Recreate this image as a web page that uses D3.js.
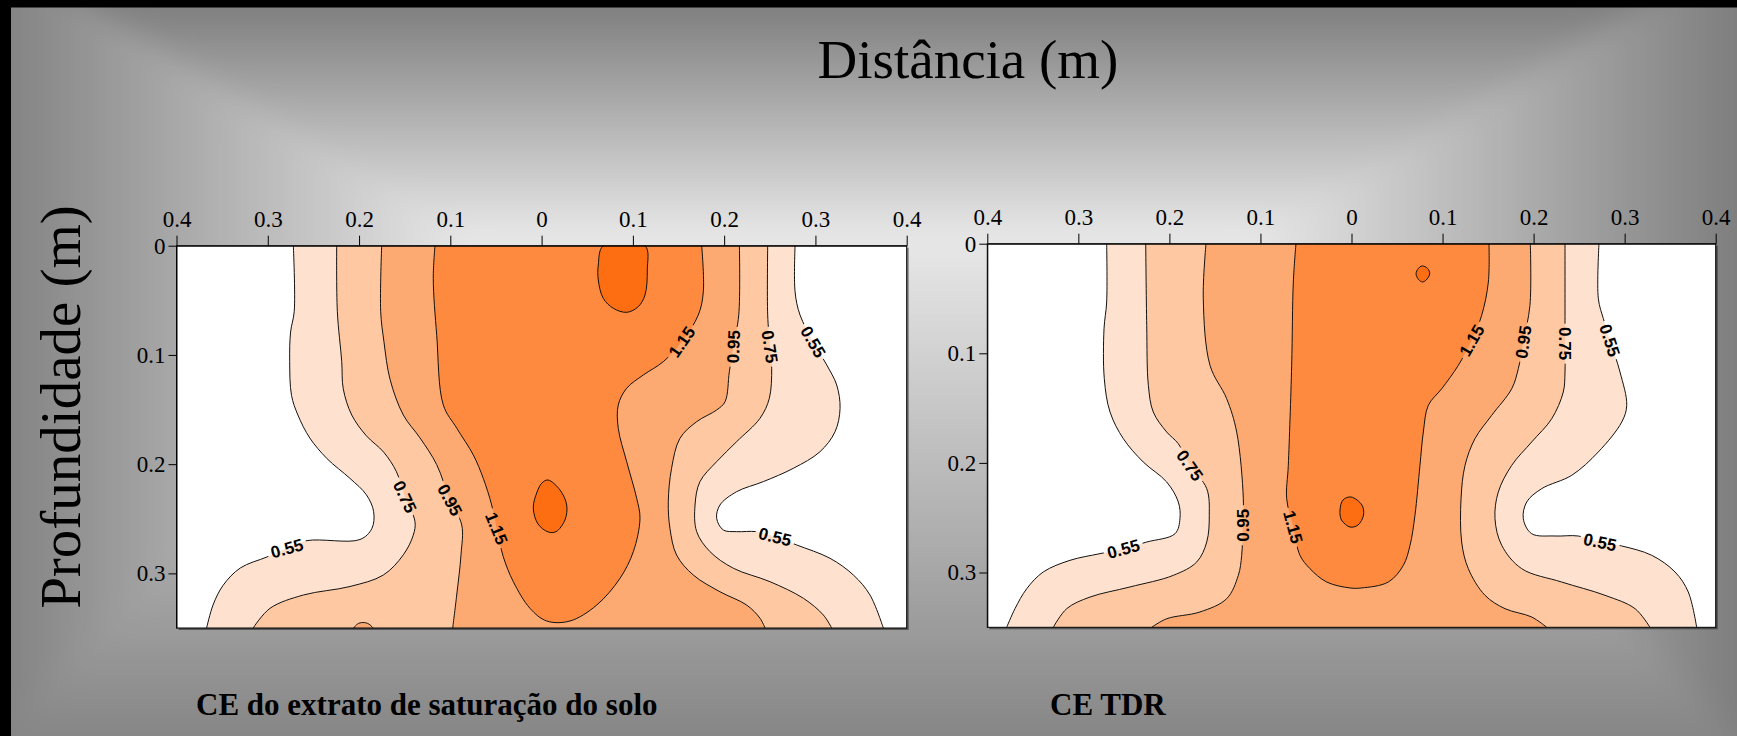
<!DOCTYPE html>
<html>
<head>
<meta charset="utf-8">
<script src="https://cdn.jsdelivr.net/npm/d3@7"></script>
<style>
  html, body { margin: 0; padding: 0; background: #000; }
  svg { display: block; }
</style>
</head>
<body>
<svg id="chart" width="1737" height="736"></svg>
<script>
// ---- contour levels and band colours ----
const levels = [0.55, 0.75, 0.95, 1.15, 1.35];
const bandColors = ["#fee2cf", "#fec8a2", "#fcaa72", "#fd8a3f", "#fd6e12"];
const xTicks = [-0.4, -0.3, -0.2, -0.1, 0, 0.1, 0.2, 0.3, 0.4];
const depthTicks = [0, 0.1, 0.2, 0.3];

// ---- CE do extrato de saturação: contour lines as [distance (m), depth (m)] ----
const ext055L = [[-0.272,0],[-0.271,0.060],[-0.275,0.079],[-0.276,0.106],[-0.274,0.137],[-0.267,0.155],[-0.254,0.176],[-0.235,0.195],[-0.210,0.213],[-0.192,0.228],[-0.184,0.2435],[-0.186,0.259],[-0.199,0.269],[-0.257,0.270],[-0.279,0.277],[-0.301,0.285],[-0.330,0.295],[-0.349,0.311],[-0.360,0.329],[-0.367,0.350]];
const ext055R = [[0.2777,0],[0.2777,0.0421],[0.2831,0.0634],[0.2977,0.0879],[0.3124,0.1092],[0.3233,0.1275],[0.327,0.1489],[0.3215,0.1703],[0.305,0.1886],[0.2758,0.2038],[0.2429,0.216],[0.2137,0.2252],[0.1954,0.2374],[0.1918,0.2496],[0.1991,0.2603],[0.2137,0.2618],[0.2356,0.2618],[0.2557,0.2664],[0.2795,0.274],[0.316,0.2862],[0.3416,0.3015],[0.3598,0.3198],[0.3744,0.35]];
const ext075L = [[-0.2245,0],[-0.2238,0.060],[-0.219,0.106],[-0.2173,0.131],[-0.208,0.155],[-0.192,0.174],[-0.173,0.189],[-0.159,0.207],[-0.1497,0.2298],[-0.1387,0.2527],[-0.1406,0.265],[-0.1515,0.283],[-0.1734,0.3015],[-0.2099,0.312],[-0.261,0.3198],[-0.2976,0.332],[-0.316,0.350]];
const ext075R = [[0.2477,0],[0.2477,0.0634],[0.2502,0.0925],[0.2521,0.1122],[0.2495,0.1397],[0.2393,0.158],[0.2137,0.1794],[0.1918,0.1977],[0.1735,0.216],[0.1681,0.2374],[0.1699,0.2618],[0.1845,0.2801],[0.2101,0.2953],[0.2502,0.3076],[0.2868,0.3228],[0.3087,0.3381],[0.3178,0.35]];
const ext095L = [[-0.1752,0],[-0.1763,0.06],[-0.1727,0.088],[-0.166,0.1225],[-0.1515,0.155],[-0.1332,0.176],[-0.1149,0.2005],[-0.1004,0.2328],[-0.0875,0.2557],[-0.0883,0.283],[-0.093,0.3198],[-0.0974,0.350]];
const ext095R = [[0.2167,0],[0.216,0.0634],[0.21,0.0925],[0.2057,0.1153],[0.201,0.1428],[0.1918,0.1504],[0.1699,0.1611],[0.1516,0.1763],[0.1424,0.2038],[0.1388,0.2344],[0.1406,0.2587],[0.1479,0.2832],[0.1662,0.3015],[0.1954,0.3168],[0.2247,0.329],[0.2393,0.3411],[0.2448,0.35]];
const ext095Bump = [[-0.207,0.353],[-0.202,0.3465],[-0.1957,0.3450],[-0.189,0.3465],[-0.183,0.353]];
const ext115 = [[-0.1168,0],[-0.1187,0.030],[-0.1149,0.082],[-0.1077,0.1458],[-0.093,0.167],[-0.0748,0.1916],[-0.0639,0.213],[-0.0547,0.2374],[-0.0492,0.2587],[-0.042,0.2847],[-0.031,0.3076],[-0.0127,0.332],[0.0056,0.3436],[0.0311,0.3436],[0.0604,0.329],[0.0859,0.3045],[0.1005,0.2801],[0.1078,0.2496],[0.1042,0.2313],[0.0932,0.1977],[0.084,0.1672],[0.084,0.1458],[0.0932,0.1305],[0.1114,0.1184],[0.1333,0.1062],[0.1535,0.0879],[0.1717,0.0634],[0.1772,0.0421],[0.1754,0]];
const ext135Top = [[0.0676,0],[0.0621,0.0177],[0.0621,0.0314],[0.0676,0.0482],[0.0786,0.0573],[0.0932,0.061],[0.1059,0.0558],[0.1133,0.0451],[0.1158,0.0222],[0.1133,0]];
const ext135Mid = [[0.007,0.2145],[0.0202,0.2237],[0.0275,0.2374],[0.0256,0.2511],[0.0158,0.2618],[0.0073,0.2621],[-0.0039,0.2548],[-0.0091,0.2401],[-0.005,0.2255],[0.0004,0.2172]];
// contour labels: [level, distance, depth, rotation]
const extLabels = [[0.55,-0.279,0.277,-15],[0.75,-0.1497,0.2298,65],[0.95,-0.1004,0.2328,62],[1.15,-0.0492,0.2587,68],[1.15,0.1535,0.0879,-55],[0.95,0.21,0.0925,-88],[0.75,0.2502,0.0925,82],[0.55,0.2977,0.0879,60],[0.55,0.2557,0.2664,14]];

// ---- CE TDR ----
const tdr055L = [[-0.2689,0],[-0.2689,0.0532],[-0.2718,0.0776],[-0.2715,0.1232],[-0.2652,0.1536],[-0.2506,0.1779],[-0.2287,0.1992],[-0.203,0.2174],[-0.1902,0.2357],[-0.1884,0.2509],[-0.1938,0.2646],[-0.2249,0.2722],[-0.2506,0.2783],[-0.2762,0.2828],[-0.3092,0.2889],[-0.3385,0.2995],[-0.3567,0.3148],[-0.3696,0.333],[-0.3787,0.35]];
const tdr055R = [[0.2718,0],[0.2711,0.0502],[0.2766,0.0684],[0.2839,0.0881],[0.2949,0.1171],[0.3023,0.1474],[0.2968,0.1627],[0.2711,0.19],[0.2419,0.2113],[0.2089,0.2235],[0.1924,0.2357],[0.1887,0.2509],[0.1979,0.2646],[0.2235,0.2667],[0.2491,0.2667],[0.2729,0.2722],[0.2968,0.2758],[0.3297,0.2843],[0.3553,0.2995],[0.3699,0.3178],[0.3791,0.35]];
const tdr075L = [[-0.226,0],[-0.2249,0.0745],[-0.2231,0.1292],[-0.2177,0.1536],[-0.203,0.1718],[-0.1902,0.1825],[-0.1774,0.2022],[-0.159,0.2235],[-0.1562,0.2478],[-0.159,0.2722],[-0.17,0.2904],[-0.1957,0.3026],[-0.2433,0.3132],[-0.2872,0.3224],[-0.3128,0.333],[-0.3275,0.35]];
const tdr075R = [[0.2345,0],[0.2345,0.0623],[0.2345,0.0912],[0.2345,0.1171],[0.2326,0.1353],[0.2199,0.1597],[0.1979,0.1809],[0.176,0.2022],[0.1612,0.2266],[0.1576,0.2509],[0.165,0.2752],[0.1869,0.2965],[0.2309,0.3087],[0.2784,0.3208],[0.3114,0.333],[0.3278,0.35]];
const tdr095L = [[-0.1598,0],[-0.1628,0.0502],[-0.1554,0.111],[-0.1371,0.1414],[-0.1261,0.1718],[-0.1188,0.2327],[-0.1195,0.2569],[-0.1206,0.2843],[-0.1243,0.3026],[-0.1371,0.3239],[-0.1664,0.336],[-0.203,0.3422],[-0.2194,0.35]];
const tdr095R = [[0.1964,0],[0.196,0.0562],[0.1887,0.0897],[0.1832,0.1141],[0.176,0.1323],[0.154,0.1566],[0.1356,0.1779],[0.1247,0.2022],[0.1203,0.2327],[0.121,0.2722],[0.1283,0.2965],[0.1466,0.3208],[0.1686,0.333],[0.1979,0.3406],[0.2144,0.35]];
const tdr115 = [[-0.061,0],[-0.0639,0.035],[-0.0657,0.111],[-0.0694,0.2022],[-0.0712,0.2327],[-0.0639,0.2585],[-0.0566,0.2843],[-0.0456,0.2965],[-0.0272,0.3087],[-0.0016,0.3141],[0.0112,0.3141],[0.0404,0.3087],[0.0569,0.2935],[0.0643,0.2752],[0.0697,0.2478],[0.0752,0.2022],[0.0789,0.1718],[0.0844,0.1474],[0.0991,0.1323],[0.1173,0.111],[0.132,0.0881],[0.143,0.0653],[0.1503,0.035],[0.151,0]];
const tdr135Top = [[0.0775,0.0203],[0.0835,0.0225],[0.0859,0.0276],[0.0815,0.0335],[0.0778,0.0349],[0.074,0.033],[0.0709,0.0276],[0.0735,0.0225]];
const tdr135Mid = [[-0.0005,0.2311],[0.0115,0.2385],[0.0132,0.2476],[0.0071,0.2567],[-0.0016,0.2585],[-0.011,0.2521],[-0.0126,0.2429],[-0.0093,0.2338]];
const tdrLabels = [[0.55,-0.2506,0.2783,-15],[0.75,-0.1774,0.2022,55],[0.95,-0.1195,0.2569,-90],[1.15,-0.0639,0.2585,75],[1.15,0.132,0.0881,-60],[0.95,0.1887,0.0897,-82],[0.75,0.2345,0.0912,90],[0.55,0.2839,0.0881,72],[0.55,0.2729,0.2722,12]];

const W = 1737, H = 736;
const svg = d3.select("#chart");
const defs = svg.append("defs");

// ---- slide background: rectangular grey gradient that lightens toward a band above the plots ----
const Lc = 470, Rc = 1250, Yc = 238, M = 120;
const centre = "#e8e8e8";
const gradDefs = [
  { id: "gTop",    x1: 0, y1: 8, x2: 0,  y2: Yc, edge: "#7f7f7f", pts: [[-M,-M],[W+M,-M],[Rc,Yc],[Lc,Yc]] },
  { id: "gBottom", x1: 0, y1: H, x2: 0,  y2: Yc, edge: "#868686", pts: [[-M,H+M],[W+M,H+M],[Rc,Yc],[Lc,Yc]] },
  { id: "gLeft",   x1: 11, y1: 0, x2: Lc, y2: 0, edge: "#848484", pts: [[-M,-M],[Lc,Yc],[-M,H+M]] },
  { id: "gRight",  x1: W, y1: 0, x2: Rc, y2: 0, edge: "#7e7e7e", pts: [[W+M,-M],[Rc,Yc],[W+M,H+M]] }
];
const blur = defs.append("filter").attr("id", "bgSoft").attr("filterUnits", "userSpaceOnUse")
  .attr("x", -M).attr("y", -M).attr("width", W + 2 * M).attr("height", H + 2 * M);
blur.append("feGaussianBlur").attr("stdDeviation", 14);
svg.append("rect").attr("width", W).attr("height", H).attr("fill", "#9a9a9a");
const bg = svg.append("g").attr("filter", "url(#bgSoft)");
gradDefs.forEach(g => {
  const lg = defs.append("linearGradient").attr("id", g.id).attr("gradientUnits", "userSpaceOnUse")
    .attr("x1", g.x1).attr("y1", g.y1).attr("x2", g.x2).attr("y2", g.y2);
  lg.append("stop").attr("offset", 0).attr("stop-color", g.edge);
  lg.append("stop").attr("offset", 1).attr("stop-color", centre);
  bg.append("polygon").attr("points", g.pts.map(p => p.join(",")).join(" "))
    .attr("fill", `url(#${g.id})`).attr("stroke", `url(#${g.id})`).attr("stroke-width", 1);
});
svg.append("rect").attr("x", 0).attr("y", 0).attr("width", W).attr("height", 7.5).attr("fill", "#000");
svg.append("rect").attr("x", 0).attr("y", 0).attr("width", 11).attr("height", H).attr("fill", "#000");

// ---- titles ----
svg.append("text").attr("x", 968).attr("y", 78)
  .attr("text-anchor", "middle").attr("font-family", "Liberation Serif, Times New Roman, serif")
  .attr("font-size", 55).attr("fill", "#000").text("Distância (m)");
svg.append("text").attr("transform", "translate(80,407) rotate(-90)")
  .attr("text-anchor", "middle").attr("font-family", "Liberation Serif, Times New Roman, serif")
  .attr("font-size", 57).attr("fill", "#000").text("Profundidade (m)");

// ---- one contour panel ----
function drawPanel(cfg) {
  const { id, left, top, width, height, bands, loop, bumps, islands, labels } = cfg;
  const x = d3.scaleLinear().domain([-0.4, 0.4]).range([left, left + width]);
  const y = d3.scaleLinear().domain([0, 0.35]).range([top, top + height]);
  const line = d3.line().x(d => x(d[0])).y(d => y(d[1])).curve(d3.curveCatmullRom.alpha(0.5));
  const closed = d3.line().x(d => x(d[0])).y(d => y(d[1])).curve(d3.curveCatmullRomClosed.alpha(0.5));

  const g = svg.append("g");
  // drop shadow and white field (values below the lowest level)
  g.append("rect").attr("x", left + 2).attr("y", top + 2).attr("width", width).attr("height", height)
    .attr("fill", "rgba(0,0,0,0.45)");
  g.append("rect").attr("x", left).attr("y", top).attr("width", width).attr("height", height).attr("fill", "#fff");

  defs.append("clipPath").attr("id", id + "-clip").append("rect")
    .attr("x", left).attr("y", top).attr("width", width).attr("height", height);
  const body = g.append("g").attr("clip-path", `url(#${id}-clip)`);

  // filled bands: each region above a level is bounded by its left and right contour
  bands.forEach(b => {
    const path = line(b.left) + line(b.right.slice().reverse()).replace(/^M/, "L") + "Z";
    body.append("path").attr("d", path).attr("fill", bandColors[levels.indexOf(b.level)]);
  });
  bumps.forEach(b => body.append("path").attr("d", closed(b.pts)).attr("fill", bandColors[levels.indexOf(b.level)]));
  body.append("path").attr("d", line(loop.pts) + "Z").attr("fill", bandColors[levels.indexOf(loop.level)]);
  islands.forEach(b => body.append("path").attr("d", closed(b.pts)).attr("fill", bandColors[levels.indexOf(b.level)]));

  // mask that opens gaps in the contour lines behind their labels
  const mask = defs.append("mask").attr("id", id + "-mask").attr("maskUnits", "userSpaceOnUse")
    .attr("x", 0).attr("y", 0).attr("width", W).attr("height", H);
  mask.append("rect").attr("width", W).attr("height", H).attr("fill", "#fff");
  labels.forEach(l => {
    mask.append("rect").attr("x", -20).attr("y", -7).attr("width", 40).attr("height", 14)
      .attr("fill", "#000")
      .attr("transform", `translate(${x(l[1])},${y(l[2])}) rotate(${l[3]})`);
  });

  const lines = body.append("g").attr("mask", `url(#${id}-mask)`)
    .attr("fill", "none").attr("stroke", "#111").attr("stroke-width", 1);
  bands.forEach(b => { lines.append("path").attr("d", line(b.left)); lines.append("path").attr("d", line(b.right)); });
  bumps.forEach(b => lines.append("path").attr("d", closed(b.pts)));
  lines.append("path").attr("d", line(loop.pts));
  islands.forEach(b => lines.append("path").attr("d", closed(b.pts)));

  body.selectAll("text.lab").data(labels).join("text").attr("class", "lab")
    .attr("transform", l => `translate(${x(l[1])},${y(l[2])}) rotate(${l[3]})`)
    .attr("text-anchor", "middle").attr("dy", "0.36em")
    .attr("font-family", "Liberation Sans, Arial, sans-serif").attr("font-size", 17).attr("font-weight", 700)
    .attr("fill", "#000").text(l => l[0].toFixed(2));

  // frame
  g.append("rect").attr("x", left).attr("y", top).attr("width", width).attr("height", height)
    .attr("fill", "none").attr("stroke", "#000").attr("stroke-width", 1);

  // axes: distance on top, depth on the left
  const fmt = d => d === 0 ? "0" : Math.abs(d).toFixed(1);
  const ax = g.append("g").attr("transform", `translate(0,${top})`)
    .call(d3.axisTop(x).tickValues(xTicks).tickFormat(fmt).tickSize(10).tickSizeOuter(0).tickPadding(9));
  const ay = g.append("g").attr("transform", `translate(${left},0)`)
    .call(d3.axisLeft(y).tickValues(depthTicks).tickFormat(d => d === 0 ? "0" : d.toFixed(1)).tickSize(8).tickSizeOuter(0).tickPadding(3));
  [ax, ay].forEach(a => {
    a.attr("font-family", "Liberation Serif, Times New Roman, serif").attr("font-size", 23);
    a.selectAll("text").attr("fill", "#000");
    a.selectAll("line,path").attr("stroke", "#000");
  });
}

drawPanel({
  id: "ext", left: 176.5, top: 245.7, width: 730.2, height: 382.3,
  bands: [
    { level: 0.55, left: ext055L, right: ext055R },
    { level: 0.75, left: ext075L, right: ext075R },
    { level: 0.95, left: ext095L, right: ext095R }
  ],
  bumps: [{ level: 0.95, pts: ext095Bump }],
  loop: { level: 1.15, pts: ext115 },
  islands: [{ level: 1.35, pts: ext135Top }, { level: 1.35, pts: ext135Mid }],
  labels: extLabels
});

drawPanel({
  id: "tdr", left: 987.3, top: 243.7, width: 728.4, height: 383.6,
  bands: [
    { level: 0.55, left: tdr055L, right: tdr055R },
    { level: 0.75, left: tdr075L, right: tdr075R },
    { level: 0.95, left: tdr095L, right: tdr095R }
  ],
  bumps: [],
  loop: { level: 1.15, pts: tdr115 },
  islands: [{ level: 1.35, pts: tdr135Top }, { level: 1.35, pts: tdr135Mid }],
  labels: tdrLabels
});

// panel captions
const cap = { "font-family": "Liberation Serif, Times New Roman, serif", "font-size": 31, "font-weight": "bold" };
[["CE do extrato de saturação do solo", 196], ["CE TDR", 1050]].forEach(([t, xx]) => {
  const el = svg.append("text").attr("x", xx).attr("y", 715).attr("fill", "#000").text(t);
  Object.entries(cap).forEach(([k, v]) => el.attr(k, v));
});
</script>
</body>
</html>
